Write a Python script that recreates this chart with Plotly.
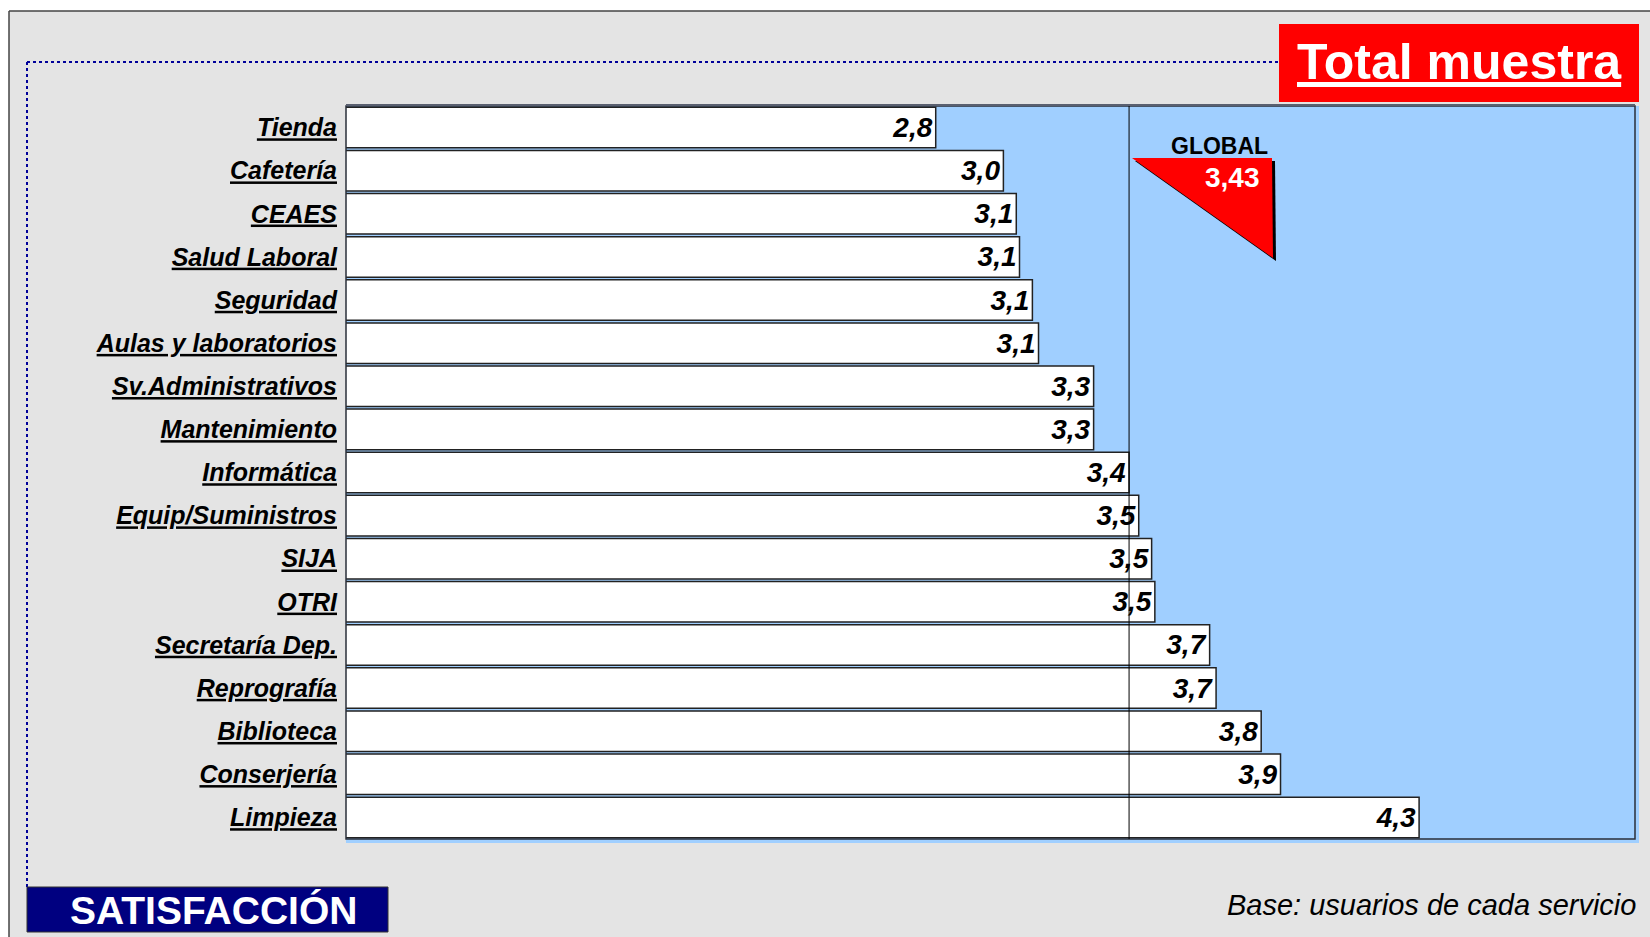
import plotly.graph_objects as go

categories = ["Tienda", "Cafetería", "CEAES", "Salud Laboral", "Seguridad",
              "Aulas y laboratorios", "Sv.Administrativos", "Mantenimiento",
              "Informática", "Equip/Suministros", "SIJA", "OTRI",
              "Secretaría Dep.", "Reprografía", "Biblioteca", "Conserjería",
              "Limpieza"]
values = [2.83, 3.04, 3.08, 3.09, 3.13, 3.149, 3.32, 3.32, 3.43, 3.46, 3.50,
          3.51, 3.68, 3.70, 3.84, 3.90, 4.33]
global_value = 3.43
x_range = [1, 5]

W, H = 1650, 937
L, R, T, B = 346, 1635, 106, 839


def px(x):
    return (x - L) / (R - L)


def py(y):
    return (B - y) / (B - T)


FONT = "Liberation Sans, Arial, sans-serif"
BLUE_BG = "#A0CFFF"
GREY_BG = "#E4E4E4"

labels = [f"{v:.1f}".replace(".", ",") for v in values]
ticktext = [f"<b><i><u>{c}</u></i></b>" for c in categories]

fig = go.Figure()
fig.add_trace(go.Bar(
    y=categories, x=values, orientation="h",
    marker=dict(color="white", line=dict(color="#222222", width=1.5)),
    text=labels, textposition="inside", insidetextanchor="end",
    textfont=dict(family=FONT, size=28, color="black", weight="bold", style="italic"),
    hoverinfo="skip", cliponaxis=True,
))

shapes = []
# grey panel background
shapes.append(dict(type="rect", xref="paper", yref="paper",
                   x0=px(9), x1=px(1660), y0=py(945), y1=py(11),
                   fillcolor=GREY_BG, line=dict(width=0), layer="below"))
# panel border (top and left)
shapes.append(dict(type="line", xref="paper", yref="paper",
                   x0=px(9), x1=px(1660), y0=py(11), y1=py(11),
                   line=dict(color="#444444", width=1.5), layer="below"))
shapes.append(dict(type="line", xref="paper", yref="paper",
                   x0=px(9), x1=px(9), y0=py(11), y1=py(945),
                   line=dict(color="#444444", width=1.5), layer="below"))
# blue shadow extension of plot area
shapes.append(dict(type="rect", xref="paper", yref="paper",
                   x0=px(L), x1=px(R + 4), y0=py(B + 4), y1=py(T),
                   fillcolor=BLUE_BG, line=dict(width=0), layer="below"))
# dotted frame lines
shapes.append(dict(type="line", xref="paper", yref="paper",
                   x0=px(27), x1=px(1279), y0=py(62), y1=py(62),
                   line=dict(color="#000099", width=2, dash="dot"), layer="above"))
shapes.append(dict(type="line", xref="paper", yref="paper",
                   x0=px(27), x1=px(27), y0=py(62), y1=py(887),
                   line=dict(color="#000099", width=2, dash="dot"), layer="above"))
# plot border
shapes.append(dict(type="rect", xref="paper", yref="paper",
                   x0=0, x1=1, y0=0, y1=1,
                   line=dict(color="#2a2f3a", width=1.5), layer="above"))
shapes.append(dict(type="line", xref="paper", yref="paper",
                   x0=0, x1=1, y0=py(T - 1), y1=py(T - 1),
                   line=dict(color="#5a6070", width=2), layer="above"))
# global reference line
shapes.append(dict(type="line", xref="x", yref="paper",
                   x0=global_value, x1=global_value, y0=0, y1=1,
                   line=dict(color="black", width=1), layer="above"))


def tri_path(pts):
    return "M " + " L ".join(f"{px(x)},{py(y)}" for x, y in pts) + " Z"


tri = [(1132, 158), (1272, 158), (1273, 258)]
shadow = [(x + 3, y + 3) for x, y in tri]
shapes.append(dict(type="path", xref="paper", yref="paper", path=tri_path(shadow),
                   fillcolor="black", line=dict(width=0), layer="above"))
shapes.append(dict(type="path", xref="paper", yref="paper", path=tri_path(tri),
                   fillcolor="#FF0000", line=dict(width=0), layer="above"))
# red title box
shapes.append(dict(type="rect", xref="paper", yref="paper",
                   x0=px(1279), x1=px(1639), y0=py(102), y1=py(24),
                   fillcolor="#FF0000", line=dict(width=0), layer="above"))
# navy box
shapes.append(dict(type="rect", xref="paper", yref="paper",
                   x0=px(27), x1=px(388), y0=py(932), y1=py(887),
                   fillcolor="#000080", line=dict(color="#333333", width=1), layer="above"))

annotations = [
    dict(text="<b><u>Total muestra</u></b>", x=px(1459), y=py(62), xref="paper", yref="paper",
         xanchor="center", yanchor="middle", showarrow=False,
         font=dict(family=FONT, size=50, color="white")),
    dict(text="<b>GLOBAL</b>", x=px(1270), y=py(146), xref="paper", yref="paper",
         xanchor="right", yanchor="middle", showarrow=False,
         font=dict(family=FONT, size=23, color="black")),
    dict(text="<b>" + f"{global_value:.2f}".replace(".", ",") + "</b>",
         x=px(1262), y=py(177), xref="paper", yref="paper",
         xanchor="right", yanchor="middle", showarrow=False,
         font=dict(family=FONT, size=28, color="white")),
    dict(text="<b>SATISFACCIÓN</b>", x=px(213), y=py(910), xref="paper", yref="paper",
         xanchor="center", yanchor="middle", showarrow=False,
         font=dict(family=FONT, size=39, color="white")),
    dict(text="<i>Base: usuarios de cada servicio</i>", x=px(1638), y=py(905),
         xref="paper", yref="paper", xanchor="right", yanchor="middle", showarrow=False,
         font=dict(family=FONT, size=29, color="black")),
]

fig.update_layout(
    width=W, height=H,
    margin=dict(l=L, r=W - R, t=T, b=H - B, pad=0),
    paper_bgcolor="white", plot_bgcolor=BLUE_BG,
    showlegend=False, bargap=0.06,
    shapes=shapes, annotations=annotations,
    xaxis=dict(range=x_range, showticklabels=False, showgrid=False,
               zeroline=False, showline=False, fixedrange=True),
    yaxis=dict(autorange="reversed", tickmode="array", tickvals=categories,
               ticktext=ticktext, showgrid=False, zeroline=False, showline=False,
               ticks="", ticklabelstandoff=8,
               tickfont=dict(family=FONT, size=25, color="black")),
    font=dict(family=FONT),
)

fig.write_html("out.html", config={"displayModeBar": False},
               post_script="document.body.style.margin='0';document.body.style.overflow='hidden';")
